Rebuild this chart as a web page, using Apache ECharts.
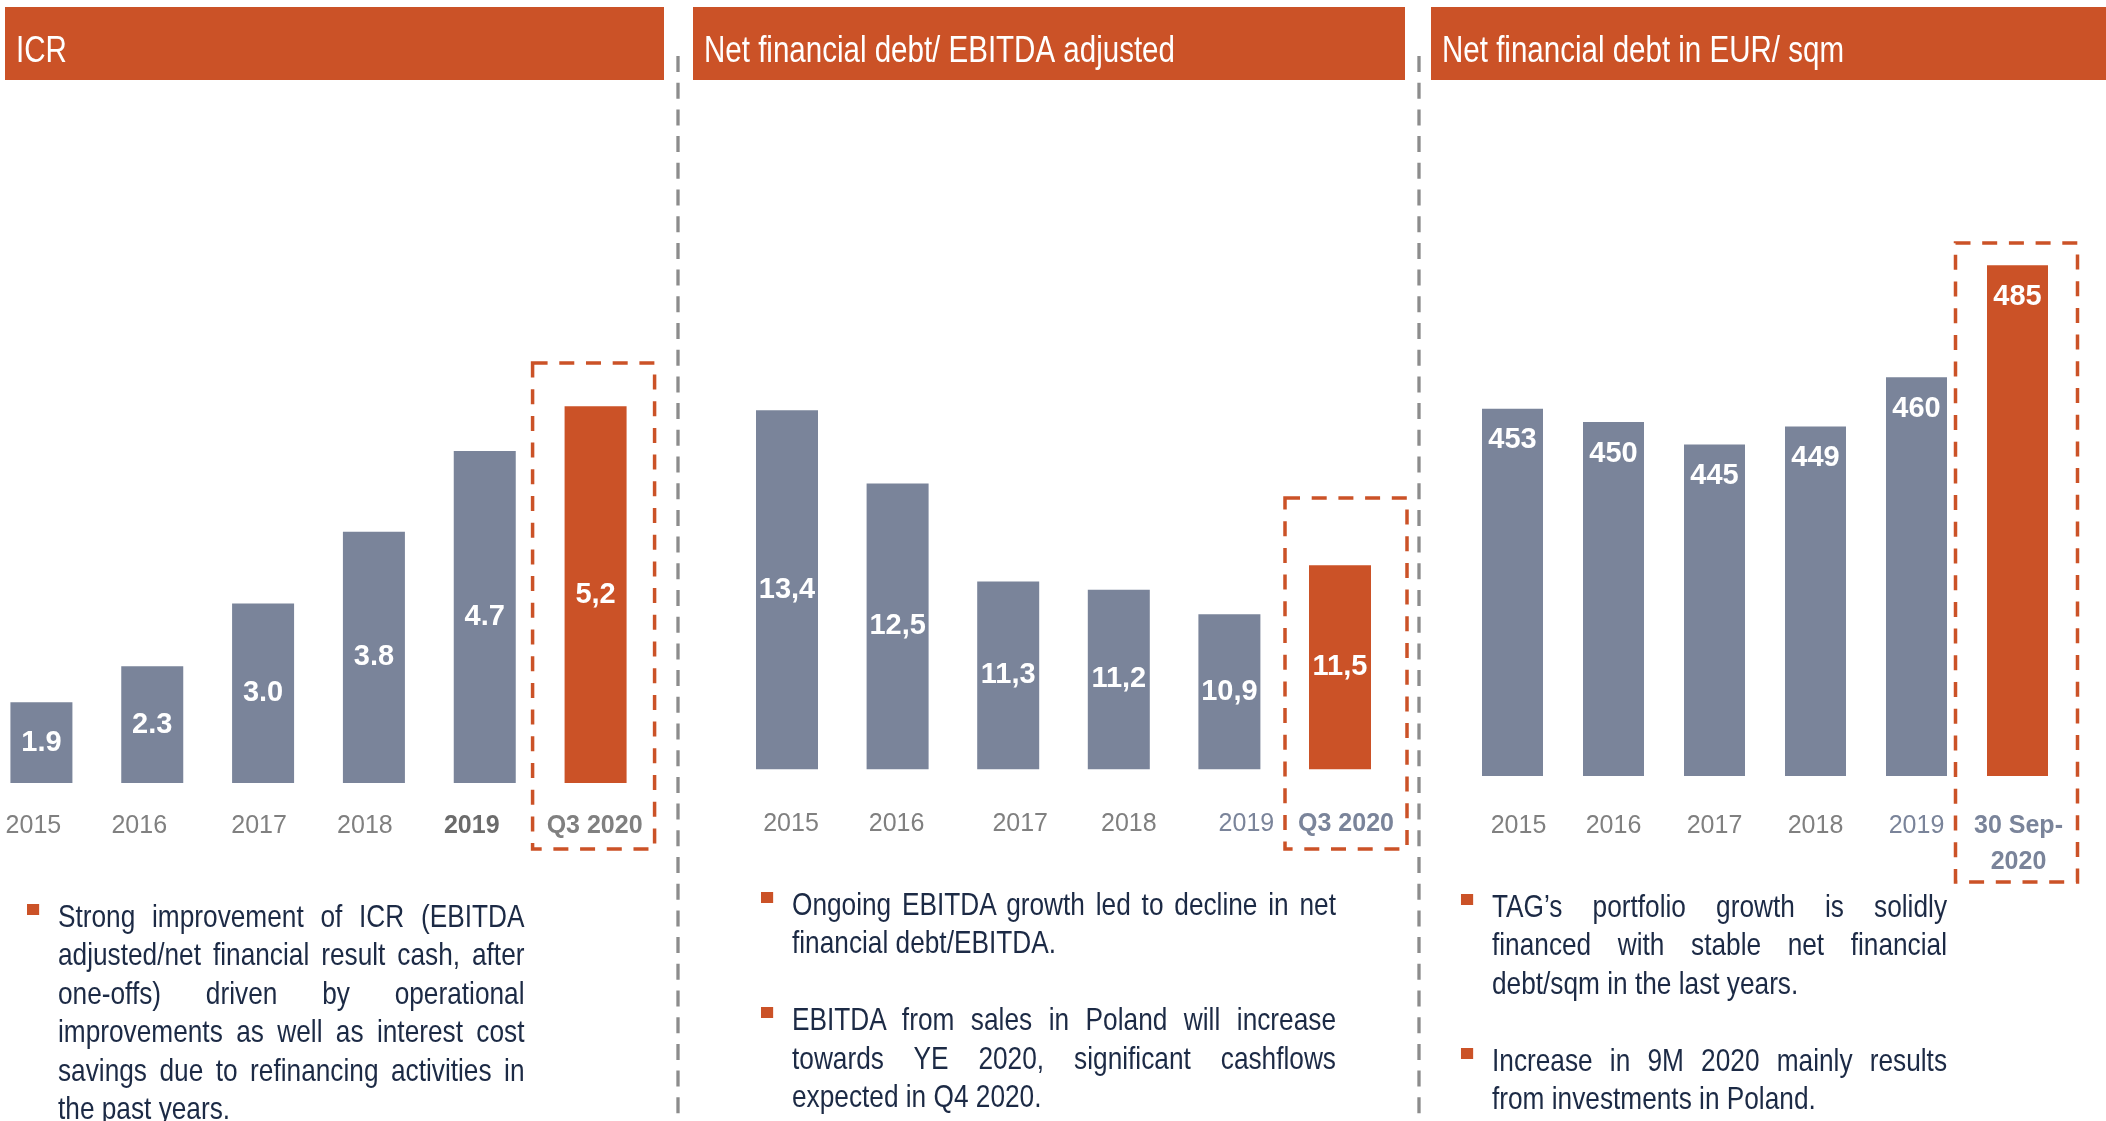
<!DOCTYPE html>
<html>
<head>
<meta charset="utf-8">
<script src="https://cdn.jsdelivr.net/npm/echarts@6/dist/echarts.min.js"></script>
<style>
  html, body { margin: 0; padding: 0; background: #ffffff; overflow: hidden; }
  #chart { position: absolute; left: 0; top: 0; width: 2106px; height: 1121px; }
  .note { position: absolute; font-family: "Liberation Sans", Arial, sans-serif; font-size: 32px; line-height: 38.4px; color: #1c2a45;
          transform: scaleX(0.82); transform-origin: 0 0; }
  .para { position: relative; }
  .ln { text-align: justify; text-align-last: justify; white-space: nowrap; }
  .ln.last { text-align-last: left; }
  .blank { height: 38.4px; }
  .sq { position: absolute; left: -37.8px; top: 7px; width: 14.6px; height: 11px; background: #cb5227; }
</style>
</head>
<body>
<div id="chart"></div>
<div id="notes"></div>
<script>
// ---------------- data ----------------
const titles = ['ICR', 'Net financial debt/ EBITDA adjusted', 'Net financial debt in EUR/ sqm'];

const icrCategories = ['2015', '2016', '2017', '2018', '2019', 'Q3 2020'];
const icrValues = [1.9, 2.3, 3.0, 3.8, 4.7, 5.2];
const icrLabels = ['1.9', '2.3', '3.0', '3.8', '4.7', '5,2'];

const debtCategories = ['2015', '2016', '2017', '2018', '2019', 'Q3 2020'];
const debtValues = [13.4, 12.5, 11.3, 11.2, 10.9, 11.5];
const debtLabels = ['13,4', '12,5', '11,3', '11,2', '10,9', '11,5'];

const sqmCategories = ['2015', '2016', '2017', '2018', '2019', '30 Sep-\n2020'];
const sqmValues = [453, 450, 445, 449, 460, 485];
const sqmLabels = ['453', '450', '445', '449', '460', '485'];

const notes1 = [
  ['Strong improvement of ICR (EBITDA', 'adjusted/net financial result cash, after', 'one-offs) driven by operational',
   'improvements as well as interest cost', 'savings due to refinancing activities in', 'the past years.']
];
const notes2 = [
  ['Ongoing EBITDA growth led to decline in net', 'financial debt/EBITDA.'],
  ['EBITDA from sales in Poland will increase', 'towards YE 2020, significant cashflows', 'expected in Q4 2020.']
];
const notes3 = [
  ['TAG\u2019s portfolio growth is solidly', 'financed with stable net financial', 'debt/sqm in the last years.'],
  ['Increase in 9M 2020 mainly results', 'from investments in Poland.']
];

// ---------------- styles ----------------
const FONT = '"Liberation Sans", Arial, sans-serif';
const NARROW = 0.82;
const ORANGE = '#cb5227';
const BAR_GRAY = '#7a849a';
const AX_GRAY = '#808080';
const AX_BLUE = '#7a849a';

const panels = [
  { cats: icrCategories, vals: icrValues, labels: icrLabels, min: 1, max: 8,
    grid: { left: -14, top: 155, width: 665, height: 628 }, barWidth: 62, labelPos: 'inside', margin: 25,
    shift: [-8, -13, -4, -9, -13, -1],
    catStyle: [{}, {}, {}, {}, { fontWeight: 'bold', color: '#6b6b6b' }, { fontWeight: 'bold', color: '#808080' }],
    header: [5, 664], box: { dx: -2, top: 363, bottom: 849 } },
  { cats: debtCategories, vals: debtValues, labels: debtLabels, min: 9, max: 16,
    grid: { left: 731.7, top: 198, width: 663.6, height: 571.2 }, barWidth: 62, labelPos: 'inside', margin: 37,
    shift: [4, -1, 12, 10, 17, 6],
    catStyle: [{}, {}, {}, {}, { color: AX_BLUE }, { fontWeight: 'bold', color: AX_BLUE }],
    header: [693, 1405], box: { dx: 6, top: 498, bottom: 849 } },
  { cats: sqmCategories, vals: sqmValues, labels: sqmLabels, min: 371, max: 521,
    grid: { left: 1462, top: 104, width: 606, height: 672 }, barWidth: 61, labelPos: 'insideTop', margin: 32,
    shift: [6, 0, 0, 0, 0, 1],
    catStyle: [{}, {}, {}, {}, { color: AX_BLUE }, { fontWeight: 'bold', color: AX_BLUE }],
    header: [1431, 2106], box: { dx: -1, top: 243, bottom: 882 } }
];

const chart = echarts.init(document.getElementById('chart'), null, { renderer: 'canvas' });

const option = {
  animation: false,
  grid: panels.map(p => Object.assign({ containLabel: false, outerBoundsMode: 'none' }, p.grid)),
  xAxis: panels.map((p, i) => ({
    type: 'category', gridIndex: i,
    data: p.cats.map((c, k) => {
      const s = p.shift[k];
      return { value: c, textStyle: Object.assign({ padding: [0, s < 0 ? -2 * s : 0, 0, s > 0 ? 2 * s : 0] }, p.catStyle[k]) };
    }),
    axisLine: { show: false }, axisTick: { show: false }, splitLine: { show: false },
    axisLabel: { interval: 0, hideOverlap: false, margin: p.margin, fontFamily: FONT, fontSize: 25, lineHeight: 36, color: AX_GRAY }
  })),
  yAxis: panels.map((p, i) => ({ type: 'value', gridIndex: i, min: p.min, max: p.max, show: false, splitLine: { show: false } })),
  series: panels.map((p, i) => ({
    type: 'bar', xAxisIndex: i, yAxisIndex: i, barWidth: p.barWidth,
    data: p.vals.map((v, k) => ({ value: v, itemStyle: { color: k === p.vals.length - 1 ? ORANGE : BAR_GRAY } })),
    label: { show: true, position: p.labelPos, distance: 17, formatter: prm => p.labels[prm.dataIndex],
             color: '#ffffff', fontFamily: FONT, fontWeight: 'bold', fontSize: 29 },
    emphasis: { disabled: true }
  }))
};
chart.setOption(option);

// ---------------- decorations ----------------
const graphics = [];
panels.forEach((p, i) => {
  const [x0, x1] = p.header;
  graphics.push({ type: 'rect', shape: { x: x0, y: 7, width: x1 - x0, height: 73 }, style: { fill: ORANGE }, silent: true });
  graphics.push({ type: 'text', x: x0 + 11, y: 52, scaleX: NARROW, originX: 0, originY: 0,
    style: { text: titles[i], fill: '#ffffff', fontFamily: FONT, fontSize: 36, verticalAlign: 'middle', align: 'left' }, silent: true });
  const cx = chart.convertToPixel({ xAxisIndex: i }, p.cats[p.cats.length - 1]);
  graphics.push({ type: 'rect', shape: { x: cx + p.box.dx - 61, y: p.box.top, width: 122, height: p.box.bottom - p.box.top },
    style: { fill: 'none', stroke: ORANGE, lineWidth: 3.5, lineDash: [15, 11.7] }, silent: true });
});
[678, 1419].forEach(x => {
  graphics.push({ type: 'line', shape: { x1: x, y1: 56, x2: x, y2: 1121 }, style: { stroke: '#8c8c8c', lineWidth: 3.3, lineDash: [16, 10.7] }, silent: true });
});
chart.setOption({ graphic: graphics });

// ---------------- bullet notes ----------------
const noteBoxes = [
  { paras: notes1, left: 58, top: 897, width: 466.5 },
  { paras: notes2, left: 792, top: 885, width: 544 },
  { paras: notes3, left: 1492, top: 887, width: 455 }
];
const notesDiv = document.getElementById('notes');
noteBoxes.forEach(nb => {
  const box = document.createElement('div');
  box.className = 'note';
  box.style.left = nb.left + 'px';
  box.style.top = nb.top + 'px';
  box.style.width = (nb.width / NARROW) + 'px';
  nb.paras.forEach((lines, pi) => {
    if (pi > 0) { const b = document.createElement('div'); b.className = 'blank'; box.appendChild(b); }
    const para = document.createElement('div');
    para.className = 'para';
    const sq = document.createElement('div'); sq.className = 'sq'; para.appendChild(sq);
    lines.forEach((t, li) => {
      const d = document.createElement('div');
      d.className = 'ln' + (li === lines.length - 1 ? ' last' : '');
      d.textContent = t;
      para.appendChild(d);
    });
    box.appendChild(para);
  });
  notesDiv.appendChild(box);
});
</script>
</body>
</html>
